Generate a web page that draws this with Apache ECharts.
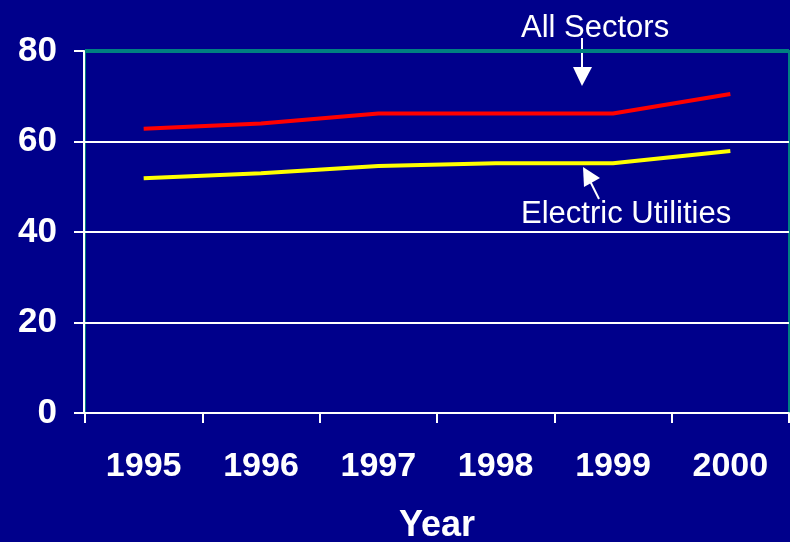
<!DOCTYPE html>
<html>
<head>
<meta charset="utf-8">
<script src="https://cdn.jsdelivr.net/npm/echarts@6/dist/echarts.min.js"></script>
<style>
  html, body { margin: 0; padding: 0; background: #00008b; }
  #main { width: 790px; height: 542px; }
</style>
</head>
<body>
<div id="main"></div>
<script>
var years = ['1995', '1996', '1997', '1998', '1999', '2000'];
var allSectors = [62.8, 64.0, 66.2, 66.2, 66.2, 70.5];
var electricUtilities = [51.9, 53.0, 54.6, 55.2, 55.2, 57.9];
var yTicks = { min: 0, max: 80, interval: 20 };

var chart = echarts.init(document.getElementById('main'));
var white = '#ffffff';
var teal = '#008080';
var font = 'Liberation Sans, Arial, sans-serif';

var option = {
  backgroundColor: '#00008b',
  animation: false,
  grid: {
    left: 85, right: 1, top: 51, bottom: 129,
    outerBoundsMode: 'none',
    containLabel: false,
    show: true,
    borderColor: teal,
    borderWidth: 2,
    backgroundColor: 'transparent'
  },
  xAxis: {
    type: 'category',
    data: years,
    boundaryGap: true,
    offset: 1,
    axisLine: { show: true, lineStyle: { color: white, width: 2 } },
    axisTick: { show: true, length: 10, lineStyle: { color: white, width: 2 } },
    axisLabel: { color: white, fontFamily: font, fontWeight: 'bold', fontSize: 34, margin: 36 },
    splitLine: { show: false },
    name: 'Year',
    nameLocation: 'middle',
    nameGap: 94,
    nameTextStyle: { color: white, fontFamily: font, fontWeight: 'bold', fontSize: 36 }
  },
  yAxis: {
    type: 'value',
    min: yTicks.min, max: yTicks.max, interval: yTicks.interval,
    offset: 1,
    axisLine: { show: true, lineStyle: { color: white, width: 2 } },
    axisTick: { show: true, length: 10, lineStyle: { color: white, width: 2 } },
    axisLabel: { color: white, fontFamily: font, fontWeight: 'bold', fontSize: 35, margin: 27 },
    splitLine: { show: true, showMinLine: false, showMaxLine: false, lineStyle: { color: white, width: 2 } }
  },
  series: [
    {
      name: 'All Sectors',
      type: 'line',
      data: allSectors,
      symbol: 'none',
      lineStyle: { color: '#ff0000', width: 4 },
      itemStyle: { color: '#ff0000' },
      markLine: {
        silent: true,
        symbol: 'none',
        label: { show: false },
        lineStyle: { color: teal, width: 4, type: 'solid' },
        data: [{ yAxis: yTicks.max }]
      }
    },
    {
      name: 'Electric Utilities',
      type: 'line',
      data: electricUtilities,
      symbol: 'none',
      lineStyle: { color: '#ffff00', width: 4 },
      itemStyle: { color: '#ffff00' }
    }
  ],
  graphic: [
    { type: 'text', left: 521, top: 13,
      style: { text: 'All Sectors', fill: white, font: '31px ' + font } },
    { type: 'line', shape: { x1: 582, y1: 38, x2: 582, y2: 70 },
      style: { stroke: white, lineWidth: 2 } },
    { type: 'polygon', shape: { points: [[573, 67], [592, 67], [582, 86]] },
      style: { fill: white } },
    { type: 'text', left: 521, top: 199,
      style: { text: 'Electric Utilities', fill: white, font: '31px ' + font } },
    { type: 'line', shape: { x1: 599, y1: 199, x2: 590, y2: 181 },
      style: { stroke: white, lineWidth: 2 } },
    { type: 'polygon', shape: { points: [[583, 167], [600, 178], [584, 187]] },
      style: { fill: white } }
  ]
};

chart.setOption(option);
</script>
</body>
</html>
